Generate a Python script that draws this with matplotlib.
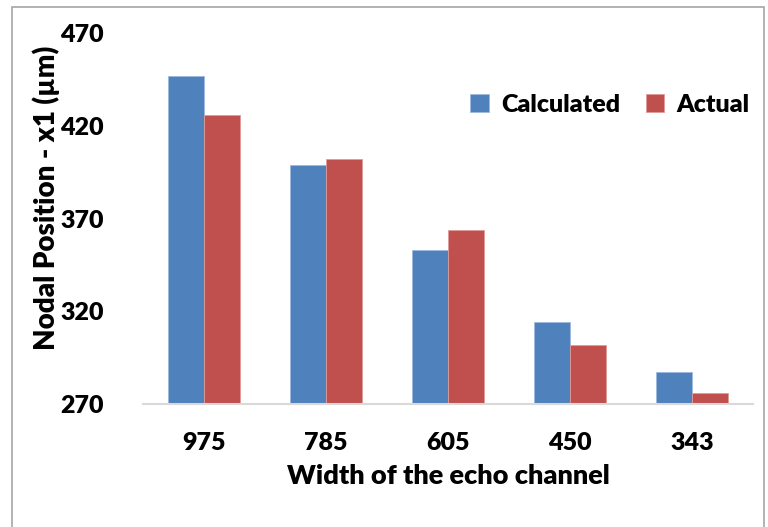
import numpy as np
import matplotlib.pyplot as plt
from matplotlib.patches import Rectangle

# data
widths = ['975', '785', '605', '450', '343']
calculated = [447, 399, 353, 314, 287]
actual = [426, 402, 364, 302, 276]
y_ticks = [270, 320, 370, 420, 470]

plt.rcParams['font.family'] = ['Lato', 'DejaVu Sans']
plt.rcParams['font.weight'] = 'heavy'

fig = plt.figure(figsize=(7.68, 5.27), dpi=100)
ax = fig.add_axes([143 / 768, 1 - 404 / 527, 610 / 768, 371 / 527])

# outer chart border (Excel style)
fig.patches.append(Rectangle((12 / 768, -0.05), 752 / 768, 1 - 7 / 527 + 0.05,
                             transform=fig.transFigure, fill=False,
                             edgecolor='#a6a6a6', linewidth=1.2))

x = np.arange(len(widths))
bw = 0.295
ax.bar(x - bw / 2, np.array(calculated) - 270, bw, bottom=270, color='#4F81BD',
       edgecolor='#9db8dc', linewidth=0.6, label='Calculated')
ax.bar(x + bw / 2, np.array(actual) - 270, bw, bottom=270, color='#C0504D',
       edgecolor='#e09a98', linewidth=0.6, label='Actual')

ax.set_xlim(-0.5, len(widths) - 0.5)
ax.set_ylim(270, 470)
ax.set_yticks(y_ticks)
ax.set_xticks(x)
ax.set_xticklabels(widths)

for s in ['top', 'right', 'left']:
    ax.spines[s].set_visible(False)
ax.spines['bottom'].set_color('#d9d9d9')
ax.spines['bottom'].set_linewidth(1.5)
ax.tick_params(axis='both', length=0, labelsize=18)
ax.tick_params(axis='y', pad=28)
ax.tick_params(axis='x', pad=20)
for lbl in ax.get_xticklabels() + ax.get_yticklabels():
    lbl.set_fontweight('heavy')

ax.set_xlabel('Width of the echo channel', fontsize=19.5, fontweight='heavy', labelpad=7)
fig.text(46 / 768, 1 - 198 / 527, 'Nodal Position - x1 (µm)', rotation=90,
         ha='center', va='center', fontsize=20, fontweight='heavy')

ax.legend(loc='center', bbox_to_anchor=(610 / 768, 1 - 105 / 527),
          bbox_transform=fig.transFigure, ncol=2, frameon=False,
          prop={'size': 18, 'weight': 'heavy'}, handlelength=0.75, handleheight=0.75,
          handletextpad=0.5, columnspacing=1.0)

fig.savefig('out.png', dpi=100)
